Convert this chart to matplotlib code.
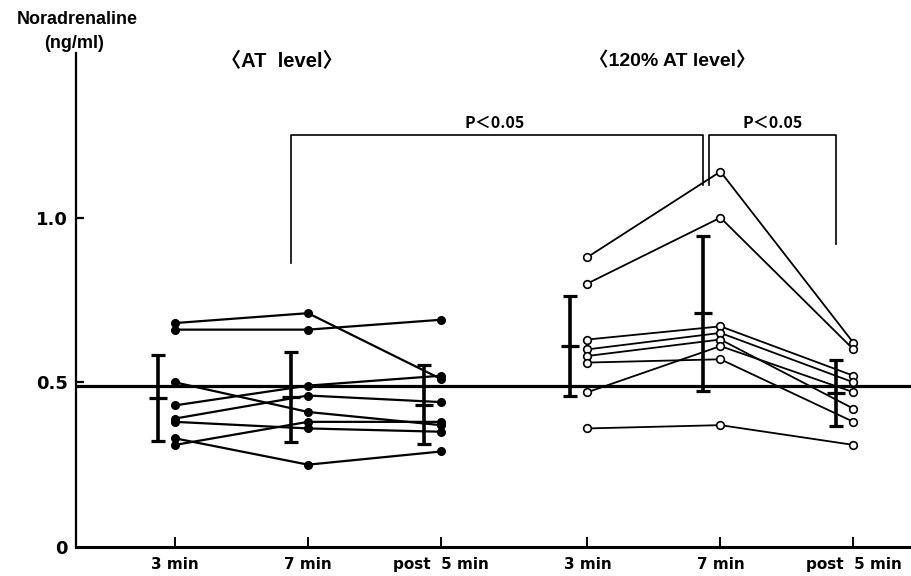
import matplotlib.pyplot as plt

# Noradrenaline (ng/ml) per subject, AT level exercise
at_3min = [0.68, 0.66, 0.50, 0.43, 0.39, 0.38, 0.33, 0.31]
at_7min = [0.71, 0.66, 0.41, 0.49, 0.46, 0.36, 0.25, 0.38]
at_post = [0.51, 0.69, 0.37, 0.52, 0.44, 0.35, 0.29, 0.38]

# 120% AT level exercise
hi_3min = [0.88, 0.80, 0.63, 0.60, 0.58, 0.56, 0.47, 0.36]
hi_7min = [1.14, 1.00, 0.67, 0.65, 0.63, 0.57, 0.61, 0.37]
hi_post = [0.62, 0.60, 0.52, 0.50, 0.42, 0.38, 0.47, 0.31]

# group mean and SD
at_mean = [0.453, 0.456, 0.432]
at_sd = [0.130, 0.137, 0.120]
hi_mean = [0.61, 0.71, 0.468]
hi_sd = [0.152, 0.235, 0.100]

ref_level = 0.49

at_x = [1, 2, 3]
hi_x = [4.1, 5.1, 6.1]
tick_labels = ["3 min", "7 min", "post  5 min"] * 2
bar_shift = -0.13

narrow = ["Liberation Sans Narrow", "DejaVu Sans"]
head = ["Liberation Sans", "Noto Sans CJK JP"]
jp = ["Noto Sans CJK JP", "DejaVu Sans"]

fig = plt.figure(figsize=(9.12, 5.76), dpi=100)
ax = fig.add_axes([76 / 912, 29 / 576, 836 / 912, 494 / 576])

ax.axhline(ref_level, color="black", lw=2.3, zorder=1)

# individual subjects
for i in range(len(at_3min)):
    ax.plot(at_x, [at_3min[i], at_7min[i], at_post[i]], color="black", lw=1.6,
            marker="o", ms=5.5, mfc="black", mec="black", zorder=3)
for i in range(len(hi_3min)):
    ax.plot(hi_x, [hi_3min[i], hi_7min[i], hi_post[i]], color="black", lw=1.3,
            marker="o", ms=5.5, mfc="white", mec="black", mew=1.2, zorder=3)

# mean +/- SD bars, drawn just left of the points
for xs, m, s in [(at_x, at_mean, at_sd), (hi_x, hi_mean, hi_sd)]:
    bx = [x + bar_shift for x in xs]
    ax.errorbar(bx, m, yerr=s, fmt="none", ecolor="black", elinewidth=2.6,
                capsize=4.8, capthick=2.3, zorder=4)
    ax.plot(bx, m, ls="none", marker="_", ms=13, mew=2.3, color="black", zorder=4)

# significance brackets
br_top = 1.252
b1 = at_x[1] + bar_shift
b2 = hi_x[1] + bar_shift
b3 = hi_x[2] + bar_shift
ax.plot([b1, b1, b2, b2], [0.863, br_top, br_top, 1.10], color="black", lw=1.2, clip_on=False)
ax.plot([b2 + 0.045, b2 + 0.045, b3, b3], [1.10, br_top, br_top, 0.92], color="black", lw=1.2,
        clip_on=False)
ax.text((b1 + b2) / 2 - 0.02, br_top + 0.012, "P＜0.05", ha="center", va="bottom",
        fontsize=11.5, fontweight="bold", family=jp)
ax.text((b2 + b3) / 2 + 0.02, br_top + 0.012, "P＜0.05", ha="center", va="bottom",
        fontsize=11.5, fontweight="bold", family=jp)

# group titles
ax.text(1.8, 1.475, "〈AT  level〉", ha="center", va="center", fontsize=14.5,
        fontweight="bold", family=head, clip_on=False)
ax.text(4.74, 1.475, "〈120% AT level〉", ha="center", va="center", fontsize=14,
        fontweight="bold", family=head, clip_on=False)

fig.text(77 / 912, 1 - 20 / 576, "Noradrenaline", ha="center", va="center",
         fontsize=13, fontweight="bold", family="Liberation Sans")
fig.text(74 / 912, 1 - 43 / 576, "(ng/ml)", ha="center", va="center",
         fontsize=13, fontweight="bold", family="Liberation Sans")

ax.set_xlim(0.256, 6.54)
ax.set_ylim(0, 1.5)
ax.set_xticks(at_x + hi_x)
ax.set_xticklabels(tick_labels, family=narrow, fontsize=11, fontweight="bold")
ax.set_yticks([0, 0.5, 1.0])
ax.set_yticklabels(["0", "0.5", "1.0"], family=narrow, fontsize=13, fontweight="bold")

ax.spines["top"].set_visible(False)
ax.spines["right"].set_visible(False)
ax.spines["left"].set_linewidth(1.6)
ax.spines["bottom"].set_linewidth(2.2)
ax.tick_params(axis="x", direction="in", length=7, width=1.4, pad=7)
ax.tick_params(axis="y", direction="in", length=6, width=1.6, pad=6)
ax.yaxis.get_ticklines()[0].set_visible(False)

fig.savefig("out.png", dpi=100)
